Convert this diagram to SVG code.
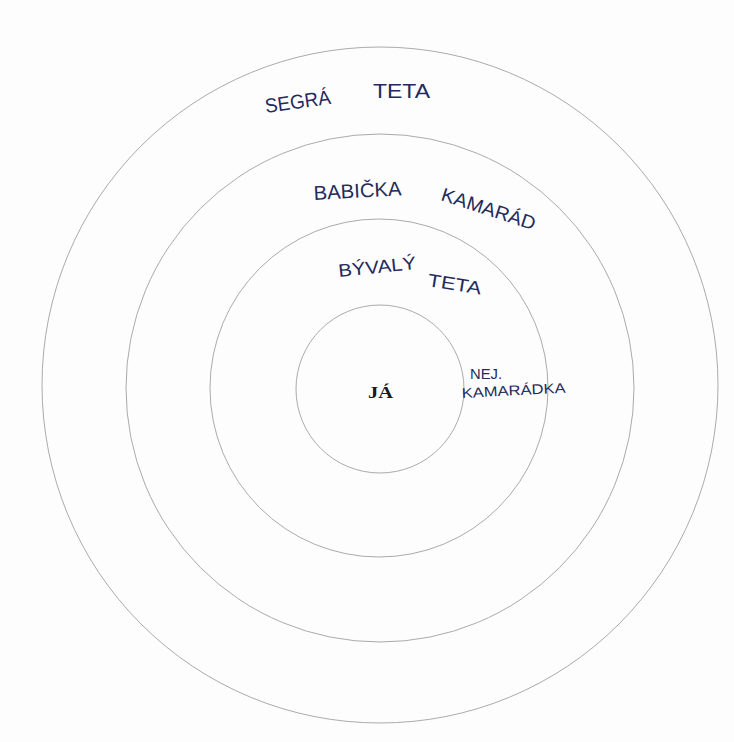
<svg xmlns="http://www.w3.org/2000/svg" width="734" height="742" viewBox="0 0 734 742">
<style>
.ring{fill:none;stroke:#ababab;stroke-width:1}
.hw{font-family:"Liberation Sans",Arial,sans-serif;fill:#232b5c;font-weight:normal}
.me{font-family:"Liberation Serif","Times New Roman",serif;font-weight:bold;fill:#1a1a1a;font-size:17px}
</style>
<rect width="734" height="742" fill="#fdfdfd"/>
<g id="rings">
<circle id="ring4" class="ring" cx="380" cy="385" r="338"/>
<circle id="ring3" class="ring" cx="380" cy="388" r="254"/>
<circle id="ring2" class="ring" cx="379" cy="388" r="169"/>
<circle id="ring1" class="ring" cx="380" cy="389" r="84"/>
</g>
<g id="connectors"/>
<g id="node-ja"><text class="me" x="368" y="398" textLength="25" lengthAdjust="spacingAndGlyphs">JÁ</text></g>
<g id="node-segra"><text class="hw" font-size="20" x="266" y="113" textLength="66" lengthAdjust="spacingAndGlyphs" transform="rotate(-8 266 113)">SEGRÁ</text></g>
<g id="node-teta1"><text class="hw" font-size="20" x="373" y="98" textLength="57" lengthAdjust="spacingAndGlyphs">TETA</text></g>
<g id="node-babicka"><text class="hw" font-size="20" x="314" y="200" textLength="88" lengthAdjust="spacingAndGlyphs" transform="rotate(-3 314 200)">BABIČKA</text></g>
<g id="node-kamarad"><text class="hw" font-size="19" x="440" y="200" textLength="98" lengthAdjust="spacingAndGlyphs" transform="rotate(18 440 200)">KAMARÁD</text></g>
<g id="node-byvaly"><text class="hw" font-size="18" x="339" y="277" textLength="78" lengthAdjust="spacingAndGlyphs" transform="rotate(-6 339 277)">BÝVALÝ</text></g>
<g id="node-teta2"><text class="hw" font-size="18" x="427" y="286" textLength="54" lengthAdjust="spacingAndGlyphs" transform="rotate(9 427 286)">TETA</text></g>
<g id="node-nej"><text class="hw" font-size="14" x="470" y="379" textLength="32" lengthAdjust="spacingAndGlyphs">NEJ.</text>
<text class="hw" font-size="14" x="462" y="398" textLength="104" lengthAdjust="spacingAndGlyphs" transform="rotate(-3 462 398)">KAMARÁDKA</text></g>
</svg>
